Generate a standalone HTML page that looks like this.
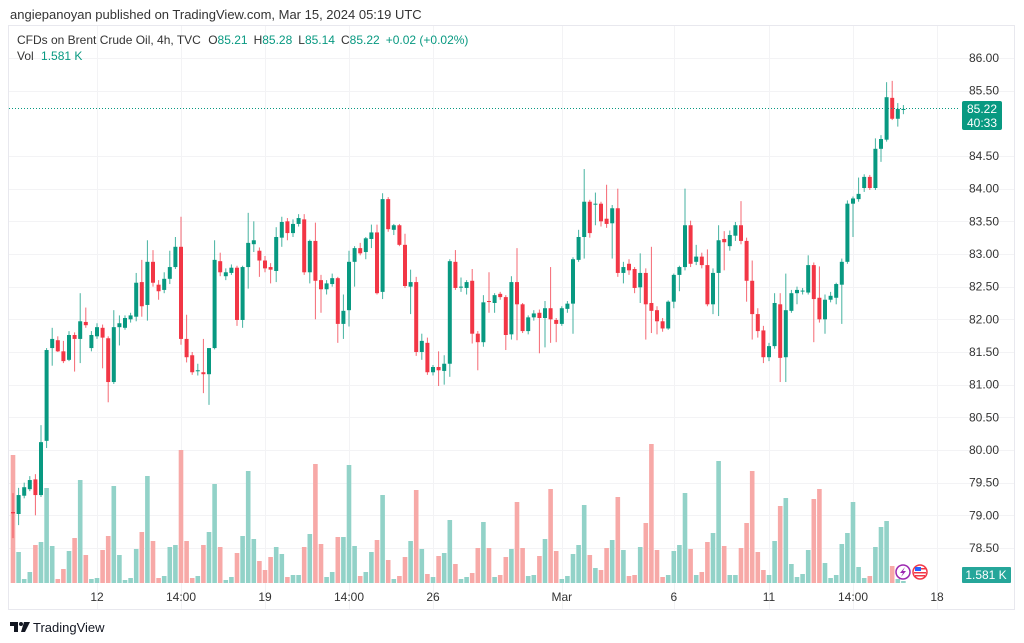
<!DOCTYPE html>
<html><head><meta charset="utf-8"><style>
html,body{margin:0;padding:0;background:#fff;width:1024px;height:643px;overflow:hidden}
svg{display:block;font-family:"Liberation Sans","DejaVu Sans",sans-serif}
</style></head><body>
<svg id="chart" width="1024" height="643" viewBox="0 0 1024 643" xmlns="http://www.w3.org/2000/svg">
<text x="10" y="19" font-size="13" fill="#333">angiepanoyan published on TradingView.com, Mar 15, 2024 05:19 UTC</text>
<rect x="8.5" y="25.5" width="1006" height="584" fill="none" stroke="#e8e8ee"/>
<g id="grid"></g>
<g id="vol"></g>
<g id="candles"></g>
<g id="axes"></g>
<text x="17" y="44" font-size="12" fill="#333">CFDs on Brent Crude Oil, 4h, TVC <tspan dx="4">O</tspan><tspan fill="#089981">85.21</tspan><tspan dx="6">H</tspan><tspan fill="#089981">85.28</tspan><tspan dx="6">L</tspan><tspan fill="#089981">85.14</tspan><tspan dx="6">C</tspan><tspan fill="#089981">85.22</tspan><tspan dx="6" fill="#089981">+0.02 (+0.02%)</tspan></text>
<text x="17" y="60" font-size="12" fill="#333">Vol <tspan dx="4" fill="#089981">1.581 K</tspan></text>
<line x1="9" x2="960" y1="108.5" y2="108.5" stroke="#089981" stroke-dasharray="1,2" stroke-width="1"/>
<rect x="962" y="101" width="40" height="29" rx="2" fill="#089981"/>
<text x="982" y="113" font-size="12" fill="#fff" text-anchor="middle">85.22</text>
<text x="982" y="127" font-size="12" fill="#fff" text-anchor="middle">40:33</text>
<rect x="962" y="567" width="49" height="16" rx="1" fill="#26a69a"/>
<text x="986" y="579" font-size="12" fill="#fff" text-anchor="middle">1.581 K</text>
<g><circle cx="903" cy="572" r="7" fill="#fff" stroke="#9c27b0" stroke-width="1.5"/><path d="M905 567 L900 573 L903 573 L901 577 L906 571 L903 571 Z" fill="#9c27b0"/></g>
<g><circle cx="920" cy="572" r="7" fill="#fff" stroke="#f23645" stroke-width="1.5"/><rect x="915" y="567" width="6" height="4" fill="#2962ff"/><rect x="914" y="572" width="12" height="1.5" fill="#f23645"/><rect x="915" y="575" width="10" height="1.5" fill="#f23645"/><rect x="921" y="568" width="5" height="1.5" fill="#f23645"/></g>
<g><path d="M10 622 h8 v10 h-4 v-6 h-4 z" fill="#131722"/><circle cx="21" cy="624" r="2" fill="#131722"/><path d="M24 622 h6 l-5 10 h-4 z" fill="#131722"/><text x="33" y="632" font-size="13" fill="#131722">TradingView</text></g>
<script>
const opens=[79.05,79.02,79.30,79.40,79.55,79.31,80.14,81.56,81.68,81.51,81.38,81.76,81.70,81.96,81.56,81.74,81.87,81.71,81.04,81.88,81.87,82.00,82.04,82.57,82.22,82.88,82.53,82.45,82.62,82.80,83.11,81.70,81.45,81.21,81.19,81.16,81.56,82.89,82.66,82.71,82.79,81.99,82.80,83.15,83.05,82.90,82.80,82.74,83.25,83.50,83.32,83.46,83.53,82.72,83.20,82.60,82.46,82.54,82.63,81.93,82.14,82.88,83.09,83.03,83.23,83.33,82.42,83.84,83.37,83.44,83.14,82.50,82.57,81.50,81.64,81.19,81.27,81.21,81.32,82.88,82.49,82.48,82.59,81.78,81.65,82.28,82.25,82.39,82.34,81.77,82.57,82.23,81.82,82.03,82.10,82.02,82.17,81.99,81.93,82.16,82.24,82.91,83.26,83.80,83.76,83.77,83.54,83.47,83.70,82.71,82.85,82.77,82.49,82.71,82.25,82.14,81.97,81.86,82.27,82.68,82.80,83.44,82.88,82.96,82.83,82.23,82.71,83.23,83.12,83.28,83.44,83.20,82.59,82.08,81.83,81.42,81.59,82.23,81.42,82.13,82.40,82.43,82.41,82.83,82.33,82.00,82.30,82.33,82.53,82.88,83.77,83.84,84.01,84.18,84.01,84.61,84.75,85.39,85.07,85.21];
const highs=[79.34,79.42,79.50,79.60,79.63,80.38,81.56,81.87,81.74,81.67,81.82,81.80,82.40,82.18,81.82,81.94,81.92,81.74,82.14,82.06,82.06,82.10,82.71,82.91,83.21,83.06,82.60,82.72,83.05,83.26,83.57,82.07,81.50,81.32,81.70,81.56,83.21,83.02,82.78,82.84,82.82,82.82,83.63,83.50,83.10,82.97,82.86,83.41,83.57,83.55,83.53,83.61,83.61,83.22,83.48,82.68,82.60,82.70,82.65,82.38,83.05,83.12,83.17,83.26,83.45,83.45,83.93,83.87,83.46,83.46,83.31,82.76,82.65,81.78,81.72,81.30,81.51,81.45,82.92,83.06,82.64,82.60,82.77,81.82,82.37,82.72,82.40,82.42,82.37,82.66,83.09,82.25,82.06,82.14,82.15,82.28,82.80,82.02,82.20,82.28,82.95,83.37,84.30,83.83,83.94,83.80,84.06,83.75,84.00,82.88,82.92,82.80,83.01,82.78,83.11,82.20,82.02,82.29,82.70,82.82,84.00,83.51,83.14,83.02,83.07,82.78,83.44,83.35,83.36,83.49,83.81,83.25,82.90,82.17,81.90,81.64,82.40,82.40,82.70,82.45,82.50,82.48,82.98,82.87,82.81,82.38,82.42,82.56,82.93,83.82,83.88,84.17,84.22,84.21,84.77,84.82,85.63,85.65,85.31,85.28];
const lows=[78.65,78.85,79.26,79.37,79.00,79.28,80.03,81.29,81.50,81.33,81.36,81.20,81.33,81.87,81.51,81.70,81.25,80.73,81.01,81.60,81.84,81.95,81.97,82.04,81.98,82.50,82.30,82.40,82.54,82.77,81.61,81.34,81.15,81.14,80.87,80.69,81.54,82.66,82.60,82.68,81.90,81.87,82.47,83.03,82.65,82.72,82.55,82.57,83.11,83.21,83.26,83.42,82.68,82.55,82.00,82.10,82.38,82.50,81.64,81.70,81.89,82.50,82.98,82.92,83.09,82.38,82.31,83.34,83.29,83.12,82.48,82.08,81.44,81.38,81.15,81.14,80.98,81.00,81.12,82.45,82.42,82.38,81.63,81.22,81.58,82.10,82.10,82.30,81.53,81.69,81.68,81.79,81.77,81.98,81.48,81.57,81.64,81.65,81.90,82.10,81.78,82.88,82.93,83.25,83.44,83.42,83.40,82.93,82.65,82.55,82.68,82.40,82.25,81.69,81.79,81.77,81.81,81.84,82.17,82.43,82.75,82.80,82.83,82.78,82.20,82.08,82.05,82.75,83.05,83.20,83.15,82.27,81.69,81.72,81.33,81.36,81.55,81.04,81.04,82.10,82.23,82.38,82.38,81.65,81.95,81.78,82.26,82.23,81.93,82.85,83.26,83.80,83.95,83.98,83.98,84.41,84.72,85.05,84.95,85.14];
const closes=[79.03,79.31,79.43,79.54,79.31,80.12,81.53,81.70,81.51,81.36,81.76,81.70,81.97,81.91,81.76,81.88,81.72,81.04,81.88,81.94,82.02,82.06,82.56,82.20,82.88,82.56,82.43,82.62,82.80,83.11,81.70,81.42,81.19,81.22,81.16,81.56,82.91,82.72,82.72,82.79,81.99,82.80,83.17,83.21,82.90,82.78,82.76,83.26,83.49,83.32,83.46,83.55,82.72,83.20,82.59,82.46,82.55,82.63,81.93,82.13,82.88,83.09,83.01,83.24,83.33,82.40,83.84,83.38,83.44,83.14,82.51,82.57,81.50,81.67,81.19,81.27,81.22,81.32,82.89,82.48,82.50,82.57,81.78,81.65,82.26,82.27,82.37,82.34,81.76,82.57,82.23,81.82,82.03,82.09,82.02,82.17,82.00,81.93,82.17,82.24,82.92,83.26,83.80,83.32,83.77,83.50,83.46,83.70,82.71,82.80,82.75,82.48,82.71,82.23,82.13,81.97,81.86,82.27,82.68,82.80,83.44,82.85,82.96,82.83,82.23,82.71,83.21,83.18,83.29,83.44,83.20,82.59,82.08,81.82,81.42,81.59,82.25,81.41,82.14,82.40,82.45,82.44,82.83,82.31,82.00,82.30,82.36,82.54,82.88,83.77,83.85,83.92,84.18,84.01,84.61,84.76,85.40,85.07,85.22,85.22];
const volumes=[128,31,4,11,38,41,95,37,4,14,32,45,103,28,4,5,33,47,97,28,3,5,34,51,107,42,5,7,36,38,133,42,5,7,38,51,99,36,3,6,30,47,112,44,22,13,26,36,29,6,8,8,36,49,119,39,6,11,46,46,118,37,7,11,31,43,88,23,4,7,26,42,93,34,9,6,27,30,63,19,4,6,10,35,61,35,6,8,26,34,81,35,7,8,27,44,94,32,4,7,29,38,78,28,15,13,35,43,86,33,7,8,36,60,139,33,6,8,32,38,90,34,8,11,41,50,122,37,8,8,35,60,112,31,13,8,42,77,85,19,6,9,33,84,94,20,5,8,39,50,81,16,5,7,36,56,62,17,4,2];
const priceTicks=["78.50","79.00","79.50","80.00","80.50","81.00","81.50","82.00","82.50","83.00","83.50","84.00","84.50","85.50","86.00"];
const timeLabels=["12","14:00","19","14:00","26","Mar","6","11","14:00","18"];
const timeIndex=[15,30,45,60,75,98,118,135,150,165];

const NS="http://www.w3.org/2000/svg";
const X0=13, STEP=5.6, Y86=58, PXPER=65.33, VBASE=583, VSCALE=1.0;
function xScale(i){return X0+i*STEP;}
function yScale(p){return Y86+(86-p)*PXPER;}
function vScale(v){return VBASE-v*VSCALE;}
function mk(tag,attrs,parent){const e=document.createElementNS(NS,tag);for(const k in attrs)e.setAttribute(k,attrs[k]);parent.appendChild(e);return e;}
const grid=document.getElementById('grid'),axes=document.getElementById('axes'),vol=document.getElementById('vol'),cg=document.getElementById('candles');
priceTicks.forEach(t=>{const y=yScale(parseFloat(t));
 const l=mk('line',{x1:9,x2:1014,y1:Math.round(y)+0.5,y2:Math.round(y)+0.5,stroke:'#f3f3f5'},grid);
 
 
 const tx=mk('text',{x:969,y:y+4,'font-size':12,fill:'#333'},axes);tx.textContent=t;
 
 
});
timeLabels.forEach((t,k)=>{const x=xScale(timeIndex[k]);
 const l=mk('line',{x1:Math.round(x)+0.5,x2:Math.round(x)+0.5,y1:26,y2:609,stroke:'#f3f3f5'},grid);
 
 
 const tx=mk('text',{x:x,y:601,'font-size':12,fill:'#333','text-anchor':'middle'},axes);tx.textContent=t;
 
 
});
volumes.forEach((v,i)=>{const up=closes[i]>=opens[i];const x=xScale(i);const y=vScale(v);
 const r=mk('rect',{x:x-2.3,y:y,width:4.6,height:VBASE-y,fill:up?'#92d2c8':'#f7a9a7'},vol);
 
 
});
opens.forEach((o,i)=>{const c=closes[i],up=c>=o,col=up?'#089981':'#f23645';const x=xScale(i);
 const w=mk('line',{x1:x,x2:x,y1:yScale(highs[i]),y2:yScale(lows[i]),stroke:col,'stroke-width':1,opacity:0.75},cg);
 
 
 const yt=yScale(Math.max(o,c)),yb=yScale(Math.min(o,c));
 const b=mk('rect',{x:x-2,y:yt,width:4,height:Math.max(1,yb-yt),fill:col},cg);
 
 
});
</script>
</svg>
</body></html>
